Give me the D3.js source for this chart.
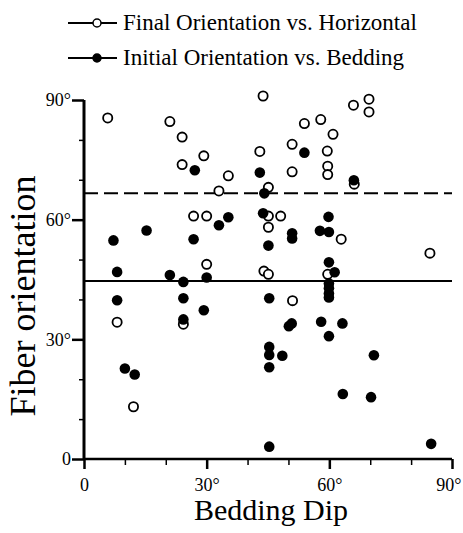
<!DOCTYPE html>
<html>
<head>
<meta charset="utf-8">
<script src="https://cdnjs.cloudflare.com/ajax/libs/d3/7.8.5/d3.min.js"></script>
<style>
body { margin: 0; background: #fff; }
</style>
</head>
<body>
<div id="chart"></div>
<script>
// data: [bedding dip, fiber orientation]
var finalPoints = [
  [5.8, 85.5], [21.0, 84.6], [24.0, 80.7], [29.3, 76.0], [24.0, 73.8], [35.3, 71.0],
  [33.0, 67.2], [26.8, 60.9], [30.0, 60.9], [30.0, 48.8], [43.8, 91.0], [65.9, 88.7],
  [69.7, 90.2], [69.7, 87.0], [53.9, 84.1], [57.9, 85.1], [60.9, 81.4], [50.9, 78.9],
  [43.0, 77.1], [59.5, 77.2], [50.9, 72.0], [59.6, 73.4], [59.6, 71.3], [45.1, 68.1],
  [66.1, 68.9], [45.1, 60.9], [48.1, 60.9], [45.1, 58.1], [62.9, 55.1], [84.6, 51.6],
  [44.0, 47.1], [45.1, 46.3], [59.6, 46.3], [51.0, 39.7], [8.1, 34.3], [12.1, 13.1],
  [24.3, 33.8]
];
var initialPoints = [
  [27.1, 72.4], [7.2, 54.8], [15.3, 57.3], [33.0, 58.6], [35.3, 60.6], [26.8, 55.1],
  [8.1, 46.9], [21.0, 46.1], [24.3, 44.4], [30.0, 45.5], [8.1, 39.8], [24.3, 40.3],
  [29.3, 37.3], [24.3, 35.0], [10.0, 22.7], [12.4, 21.2], [53.9, 76.8], [43.0, 71.8],
  [66.0, 69.9], [44.1, 66.6], [43.8, 61.6], [59.8, 60.7], [50.9, 56.6], [50.9, 55.3],
  [57.7, 57.2], [59.9, 56.9], [45.1, 53.5], [59.9, 49.3], [61.3, 46.8], [59.9, 44.0],
  [59.9, 42.8], [59.9, 41.5], [59.9, 40.5], [45.3, 40.3], [50.8, 34.0], [50.1, 33.3],
  [58.0, 34.4], [63.2, 34.0], [59.9, 30.8], [45.3, 28.1], [45.3, 26.1], [48.5, 25.9],
  [45.3, 23.0], [70.9, 26.0], [63.3, 16.3], [70.2, 15.5], [45.3, 3.1], [84.9, 3.8]
];
var majorTicks = [0, 30, 60, 90];
var minorTicks = [10, 20, 40, 50, 70, 80];
var tickLabels = ["0", "30°", "60°", "90°"];
var legendLabels = ["Final Orientation vs. Horizontal", "Initial Orientation vs. Bedding"];
var meanFinal = 66.6;   // dashed line
var meanInitial = 44.6; // solid line

var width = 463, height = 533;
var serif = "Liberation Serif";

var svg = d3.select("#chart")
  .append("svg")
  .attr("width", width)
  .attr("height", height)
  .style("font-family", serif);

var x = d3.scaleLinear().domain([0, 90]).range([84, 452]);
var y = d3.scaleLinear().domain([0, 90]).range([459, 100]);

// axes
var xAxis = svg.append("g")
  .attr("transform", "translate(0," + y(0) + ")")
  .call(d3.axisBottom(x).tickValues(majorTicks).tickSize(10).tickFormat(function(d, i) { return tickLabels[i]; }))
  .attr("font-family", null);
xAxis.select(".domain").attr("stroke-width", 2.5).attr("d", "M" + x(0) + ",0H" + x(90));
xAxis.selectAll(".tick line").attr("stroke-width", 2.5);
xAxis.selectAll(".tick text")
  .attr("y", 19)
  .attr("fill", "#000")
  .style("font-size", "18px");
// last label sits at the right edge, shift it in a bit
xAxis.selectAll(".tick text").filter(function(d) { return d == 90; })
  .attr("text-anchor", "end")
  .attr("dx", 9);
svg.append("g")
  .attr("transform", "translate(0," + y(0) + ")")
  .call(d3.axisBottom(x).tickValues(minorTicks).tickSize(6).tickFormat(""))
  .call(function(g) { g.select(".domain").remove(); })
  .selectAll("line").attr("stroke-width", 1.5);

var yAxis = svg.append("g")
  .attr("transform", "translate(" + x(0) + ",0)")
  .call(d3.axisLeft(y).tickValues(majorTicks).tickSize(12).tickFormat(function(d, i) { return tickLabels[i]; }))
  .attr("font-family", null);
yAxis.select(".domain").attr("stroke-width", 3).attr("d", "M0," + y(0) + "V" + y(90));
yAxis.selectAll(".tick line").attr("stroke-width", 2.5);
yAxis.selectAll(".tick text")
  .attr("x", -13)
  .attr("fill", "#000")
  .style("font-size", "18px");
svg.append("g")
  .attr("transform", "translate(" + x(0) + ",0)")
  .call(d3.axisLeft(y).tickValues(minorTicks).tickSize(5).tickFormat(""))
  .call(function(g) { g.select(".domain").remove(); })
  .selectAll("line").attr("stroke-width", 1.5);
svg.selectAll(".domain").attr("stroke", "#000");

// axis titles
svg.append("text")
  .attr("x", 271)
  .attr("y", 520)
  .attr("text-anchor", "middle")
  .style("font-size", "30px")
  .text("Bedding Dip");

svg.append("text")
  .attr("transform", "translate(35,296) rotate(-90)")
  .attr("text-anchor", "middle")
  .style("font-size", "36px")
  .text("Fiber orientation");

// mean lines
svg.append("line")
  .attr("x1", x(0)).attr("x2", x(90))
  .attr("y1", y(meanFinal)).attr("y2", y(meanFinal))
  .attr("stroke", "#000")
  .attr("stroke-width", 2)
  .attr("stroke-dasharray", "14,6");
svg.append("line")
  .attr("x1", x(0)).attr("x2", x(90))
  .attr("y1", y(meanInitial)).attr("y2", y(meanInitial))
  .attr("stroke", "#000")
  .attr("stroke-width", 2);

// points
svg.append("g")
  .selectAll("circle")
  .data(finalPoints)
  .enter()
  .append("circle")
  .attr("cx", function(d) { return x(d[0]); })
  .attr("cy", function(d) { return y(d[1]); })
  .attr("r", 4.6)
  .attr("fill", "#fff")
  .attr("stroke", "#000")
  .attr("stroke-width", 1.8);

svg.append("g")
  .selectAll("circle")
  .data(initialPoints)
  .enter()
  .append("circle")
  .attr("cx", function(d) { return x(d[0]); })
  .attr("cy", function(d) { return y(d[1]); })
  .attr("r", 5.3)
  .attr("fill", "#000");

// legend
var legend = svg.append("g");
legendLabels.forEach(function(label, i) {
  var cy = 23 + i * 35;
  legend.append("line")
    .attr("x1", 68).attr("x2", 117)
    .attr("y1", cy).attr("y2", cy)
    .attr("stroke", "#000")
    .attr("stroke-width", 1.8);
  legend.append("circle")
    .attr("cx", 97).attr("cy", cy)
    .attr("r", 4)
    .attr("fill", i == 0 ? "#fff" : "#000")
    .attr("stroke", "#000")
    .attr("stroke-width", 1.5);
  legend.append("text")
    .attr("x", 123)
    .attr("y", cy + 7)
    .style("font-size", "23px")
    .text(label);
});
</script>
</body>
</html>
